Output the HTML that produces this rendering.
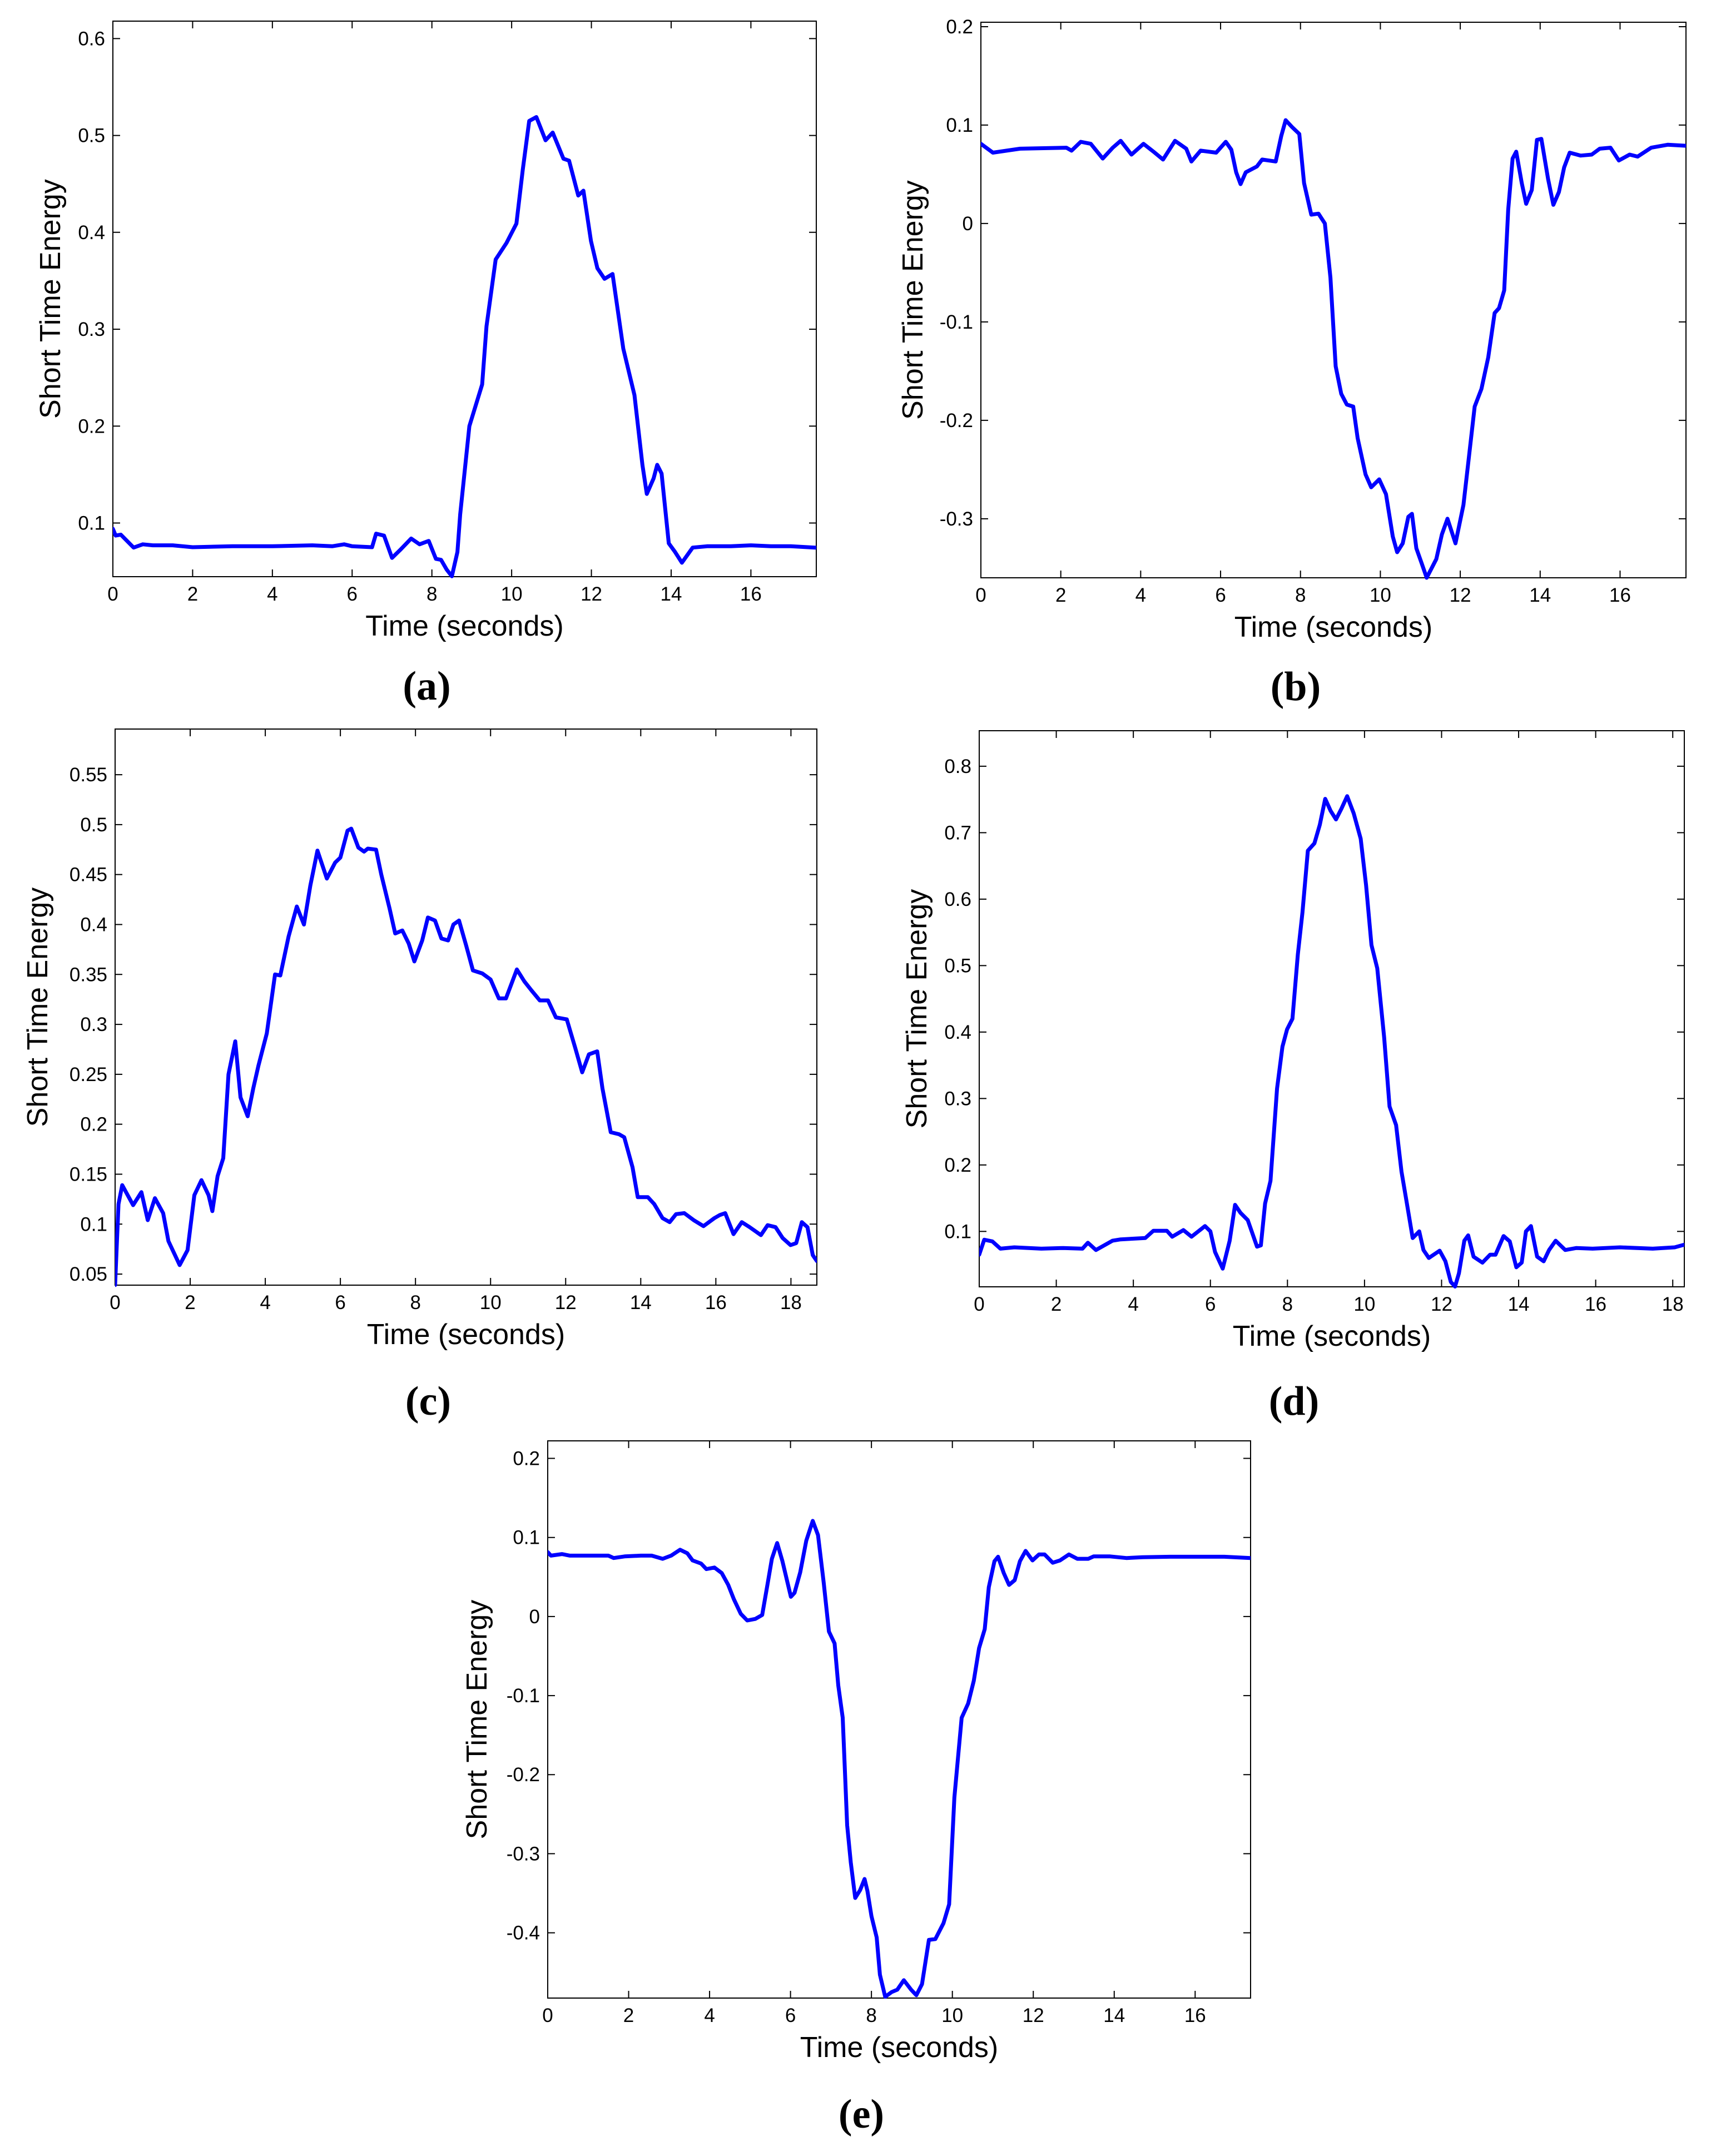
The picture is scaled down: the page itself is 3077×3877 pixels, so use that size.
<!DOCTYPE html>
<html><head><meta charset="utf-8">
<style>
html,body{margin:0;padding:0;background:#fff;}
svg{display:block;}
text{font-family:"Liberation Sans",Arial,sans-serif;fill:#000;}
.cap{font-family:"Liberation Serif",serif;font-weight:bold;}
</style></head>
<body>
<svg id="fig" width="3077" height="3877" viewBox="0 0 3077 3877" xmlns="http://www.w3.org/2000/svg"></svg>
<script>
// ---- Panel (a) data ----
const timeA = [0,0.07,0.2,0.52,0.75,1.0,1.5,2,3,4,5,5.5,5.8,6,6.5,6.6,6.8,7.0,7.2,7.48,7.69,7.92,8.1,8.23,8.37,8.5,8.64,8.71,8.94,9.26,9.37,9.6,9.87,10.12,10.28,10.44,10.62,10.85,11.03,11.3,11.44,11.67,11.8,11.99,12.15,12.33,12.53,12.8,13.08,13.28,13.39,13.56,13.65,13.76,13.94,14.1,14.27,14.54,14.9,15.5,16,16.5,17,17.64];
const energyA = [0.094,0.087,0.088,0.0746,0.078,0.077,0.077,0.075,0.076,0.076,0.077,0.076,0.078,0.076,0.075,0.089,0.087,0.064,0.072,0.084,0.078,0.0815,0.063,0.062,0.052,0.045,0.07,0.109,0.2,0.243,0.303,0.372,0.389,0.409,0.465,0.515,0.519,0.495,0.503,0.476,0.474,0.438,0.443,0.391,0.363,0.352,0.357,0.28,0.232,0.16,0.13,0.146,0.16,0.151,0.079,0.07,0.059,0.0746,0.076,0.076,0.077,0.076,0.076,0.0745];
const yTicksA = [0.1,0.2,0.3,0.4,0.5,0.6];
const yLabelsA = ["0.1","0.2","0.3","0.4","0.5","0.6"];

// ---- Panel (b) data ----
const timeB = [0,0.3,0.98,2.14,2.27,2.5,2.75,3.05,3.3,3.5,3.77,4.07,4.32,4.56,4.86,5.14,5.27,5.5,5.89,6.13,6.27,6.39,6.5,6.63,6.91,7.04,7.38,7.52,7.63,7.79,7.97,8.09,8.27,8.45,8.61,8.75,8.88,9.02,9.16,9.32,9.43,9.63,9.77,9.97,10.14,10.31,10.42,10.56,10.7,10.79,10.9,11.04,11.16,11.4,11.54,11.68,11.88,12.08,12.22,12.36,12.53,12.7,12.86,12.97,13.1,13.2,13.31,13.4,13.54,13.65,13.79,13.92,14.03,14.2,14.33,14.47,14.6,14.74,15.01,15.29,15.49,15.76,15.97,16.24,16.44,16.78,17.19,17.65];
const energyB = [0.081,0.072,0.076,0.077,0.074,0.083,0.081,0.066,0.077,0.084,0.07,0.081,0.073,0.065,0.084,0.076,0.063,0.074,0.072,0.083,0.075,0.052,0.040,0.052,0.058,0.065,0.063,0.089,0.105,0.098,0.091,0.041,0.009,0.010,0.0,-0.055,-0.145,-0.173,-0.184,-0.186,-0.218,-0.255,-0.268,-0.26,-0.275,-0.318,-0.334,-0.325,-0.298,-0.295,-0.33,-0.346,-0.36,-0.341,-0.316,-0.3,-0.325,-0.286,-0.236,-0.186,-0.168,-0.136,-0.091,-0.086,-0.068,0.014,0.066,0.073,0.041,0.02,0.034,0.085,0.086,0.045,0.019,0.032,0.057,0.072,0.069,0.07,0.076,0.077,0.064,0.07,0.068,0.077,0.08,0.079];
const yTicksB = [-0.3,-0.2,-0.1,0,0.1,0.2];
const yLabelsB = ["-0.3","-0.2","-0.1","0","0.1","0.2"];

// ---- Panel (c) data ----
const timeC = [0,0.09,0.19,0.48,0.7,0.87,1.06,1.28,1.42,1.72,1.93,2.11,2.3,2.49,2.59,2.73,2.88,3.02,3.2,3.34,3.53,3.68,3.82,4.04,4.26,4.4,4.62,4.84,5.03,5.2,5.39,5.64,5.86,6.0,6.19,6.29,6.48,6.63,6.73,6.95,7.09,7.31,7.46,7.65,7.82,7.97,8.18,8.33,8.52,8.69,8.87,9.01,9.16,9.35,9.53,9.78,10.0,10.22,10.41,10.7,10.9,11.09,11.31,11.53,11.74,11.89,12.03,12.25,12.44,12.62,12.84,12.98,13.2,13.42,13.56,13.78,13.92,14.19,14.36,14.58,14.77,14.94,15.16,15.41,15.67,15.96,16.1,16.25,16.47,16.69,16.9,17.2,17.38,17.59,17.78,17.99,18.14,18.29,18.44,18.58,18.69];
const energyC = [0.039,0.12,0.139,0.119,0.132,0.104,0.126,0.111,0.083,0.059,0.074,0.129,0.144,0.129,0.113,0.148,0.166,0.25,0.283,0.227,0.208,0.236,0.259,0.291,0.35,0.349,0.388,0.418,0.4,0.439,0.474,0.446,0.462,0.467,0.494,0.496,0.477,0.473,0.476,0.475,0.45,0.416,0.391,0.394,0.381,0.363,0.384,0.407,0.404,0.386,0.384,0.4,0.404,0.379,0.354,0.351,0.345,0.326,0.326,0.355,0.343,0.334,0.324,0.324,0.307,0.306,0.305,0.277,0.252,0.27,0.273,0.236,0.192,0.19,0.187,0.157,0.127,0.127,0.12,0.106,0.102,0.11,0.111,0.104,0.098,0.106,0.109,0.111,0.09,0.102,0.097,0.089,0.099,0.097,0.086,0.079,0.081,0.102,0.097,0.069,0.063];
const yTicksC = [0.05,0.1,0.15,0.2,0.25,0.3,0.35,0.4,0.45,0.5,0.55];
const yLabelsC = ["0.05","0.1","0.15","0.2","0.25","0.3","0.35","0.4","0.45","0.5","0.55"];

// ---- Panel (d) data ----
const timeD = [0,0.13,0.34,0.55,0.91,1.61,2.18,2.68,2.82,3.03,3.46,3.67,4.31,4.52,4.87,5.01,5.3,5.51,5.86,6.0,6.12,6.32,6.5,6.64,6.78,6.97,7.21,7.31,7.42,7.56,7.73,7.87,7.99,8.13,8.27,8.39,8.53,8.7,8.84,8.98,9.12,9.26,9.4,9.55,9.72,9.9,10.04,10.18,10.33,10.51,10.65,10.82,10.96,11.08,11.25,11.42,11.53,11.67,11.95,12.1,12.24,12.35,12.45,12.59,12.69,12.83,13.06,13.26,13.4,13.61,13.77,13.94,14.08,14.19,14.32,14.48,14.65,14.79,14.96,15.21,15.5,15.92,16.63,17.48,18.05,18.3];
const energyD = [0.065,0.0875,0.085,0.074,0.076,0.074,0.075,0.074,0.083,0.072,0.086,0.088,0.09,0.101,0.101,0.092,0.102,0.092,0.108,0.1,0.069,0.044,0.086,0.14,0.128,0.117,0.077,0.079,0.142,0.176,0.315,0.378,0.404,0.42,0.517,0.58,0.673,0.684,0.712,0.751,0.733,0.72,0.736,0.755,0.729,0.691,0.621,0.531,0.496,0.392,0.288,0.26,0.19,0.149,0.09,0.1,0.072,0.06,0.071,0.055,0.024,0.017,0.037,0.086,0.094,0.062,0.053,0.065,0.065,0.093,0.085,0.046,0.053,0.1,0.108,0.062,0.055,0.072,0.086,0.072,0.075,0.074,0.076,0.074,0.076,0.08];
const yTicksD = [0.1,0.2,0.3,0.4,0.5,0.6,0.7,0.8];
const yLabelsD = ["0.1","0.2","0.3","0.4","0.5","0.6","0.7","0.8"];

// ---- Panel (e) data ----
const timeE = [0,0.08,0.35,0.55,1.5,1.63,1.9,2.3,2.57,2.84,3.05,3.27,3.45,3.58,3.79,3.92,4.12,4.3,4.46,4.6,4.77,4.93,5.13,5.3,5.43,5.54,5.67,5.8,6.01,6.1,6.24,6.39,6.55,6.68,6.82,6.95,7.09,7.18,7.29,7.4,7.49,7.6,7.72,7.83,7.9,8.0,8.13,8.21,8.34,8.5,8.64,8.8,8.98,9.11,9.25,9.42,9.58,9.78,9.92,10.05,10.23,10.39,10.53,10.66,10.8,10.9,11.04,11.13,11.27,11.4,11.54,11.67,11.81,11.98,12.14,12.28,12.48,12.66,12.88,13.09,13.36,13.49,13.9,14.3,14.7,15.38,16.05,16.72,17.37];
const energyE = [0.0815,0.077,0.079,0.077,0.077,0.074,0.076,0.077,0.077,0.073,0.077,0.0845,0.08,0.071,0.067,0.06,0.062,0.055,0.04,0.022,0.0035,-0.005,-0.003,0.002,0.04,0.073,0.093,0.07,0.025,0.03,0.056,0.096,0.121,0.103,0.043,-0.019,-0.034,-0.087,-0.128,-0.264,-0.311,-0.356,-0.346,-0.332,-0.347,-0.379,-0.406,-0.453,-0.481,-0.475,-0.472,-0.46,-0.472,-0.479,-0.465,-0.409,-0.408,-0.388,-0.364,-0.229,-0.128,-0.11,-0.081,-0.04,-0.016,0.037,0.07,0.0756,0.055,0.04,0.046,0.07,0.083,0.071,0.0785,0.0785,0.068,0.071,0.0785,0.073,0.073,0.076,0.076,0.074,0.075,0.0756,0.0756,0.0756,0.074];
const yTicksE = [-0.4,-0.3,-0.2,-0.1,0,0.1,0.2];
const yLabelsE = ["-0.4","-0.3","-0.2","-0.1","0","0.1","0.2"];

const xTicks18 = [0,2,4,6,8,10,12,14,16,18];
const xTicks16 = [0,2,4,6,8,10,12,14,16];

const NS = "http://www.w3.org/2000/svg";
const fig = document.getElementById('fig');
function mk(tag, parent, attrs){
  const e = document.createElementNS(NS, tag);
  for (const k in attrs) e.setAttribute(k, attrs[k]);
  parent.appendChild(e);
  return e;
}

function panel(id, box, xr, yr, xs, ys, yTicks, yLabels, xTicks, capLabel, capY, yLabelOff){
  const [L,T,R,B] = box;
  const g = mk('g', fig, {});
  
  
  const sx = v => L + (v - xr[0]) / (xr[1] - xr[0]) * (R - L);
  const sy = v => B - (v - yr[0]) / (yr[1] - yr[0]) * (B - T);
  const frame = mk('rect', g, {x:L, y:T, width:R-L, height:B-T, fill:'none', stroke:'#000', 'stroke-width':2});
  
  
  const tl = 13;
  xTicks.forEach(t => {
    if (t > xr[1]) return;
    const x = sx(t);
    const tk = mk('path', g, {d:`M${x},${B}V${B-tl}M${x},${T}V${T+tl}`, stroke:'#000', 'stroke-width':2});
    
    
    const lb = mk('text', g, {x:x, y:B+43, 'font-size':35, 'text-anchor':'middle'});
    lb.textContent = String(t);
    
    
  });
  yTicks.forEach((t,i) => {
    const y = sy(t);
    const tk = mk('path', g, {d:`M${L},${y}H${L+tl}M${R},${y}H${R-tl}`, stroke:'#000', 'stroke-width':2});
    
    
    const lb = mk('text', g, {x:L-14, y:y+12, 'font-size':35, 'text-anchor':'end'});
    lb.textContent = yLabels[i];
    
    
  });
  const clip = mk('clipPath', g, {id:'clip-'+id});
  mk('rect', clip, {x:L, y:T-4, width:R-L, height:B-T+8});
  const pts = xs.map((t,i) => sx(t).toFixed(1) + ',' + sy(ys[i]).toFixed(1)).join(' ');
  const line = mk('polyline', g, {points:pts, fill:'none', stroke:'#0000ff', 'stroke-width':7, 'stroke-linejoin':'round', 'stroke-linecap':'round', 'clip-path':`url(#clip-${id})`});
  
  
  const xl = mk('text', g, {x:(L+R)/2, y:B+106, 'font-size':52, 'text-anchor':'middle'});
  xl.textContent = 'Time (seconds)';
  
  
  const yx = L - yLabelOff, yy = (T+B)/2;
  const yl = mk('text', g, {x:yx, y:yy, 'font-size':52, 'text-anchor':'middle', transform:`rotate(-90 ${yx} ${yy})`});
  yl.textContent = 'Short Time Energy';
  
  
  const cp = mk('text', g, {x:(L+R)/2 - 68, y:capY+26, 'font-size':74, 'text-anchor':'middle', class:'cap'});
  cp.textContent = capLabel;
  
  
}

panel('a', [203,38,1468,1037], [0,17.64], [0.0446,0.618], timeA, energyA, yTicksA, yLabelsA, xTicks16, '(a)', 1232, 95);
panel('b', [1764,40,3032,1039], [0,17.65], [-0.36,0.2045], timeB, energyB, yTicksB, yLabelsB, xTicks16, '(b)', 1233, 105);
panel('c', [207,1311,1469,2311], [0,18.69], [0.0389,0.5957], timeC, energyC, yTicksC, yLabelsC, xTicks18, '(c)', 2518, 122);
panel('d', [1761,1314,3029,2314], [0,18.3], [0.0166,0.8535], timeD, energyD, yTicksD, yLabelsD, xTicks18, '(d)', 2518, 95);
panel('e', [985,2591,2249,3593], [0,17.37], [-0.4826,0.2222], timeE, energyE, yTicksE, yLabelsE, xTicks16, '(e)', 3800, 110);
</script>
</body></html>
